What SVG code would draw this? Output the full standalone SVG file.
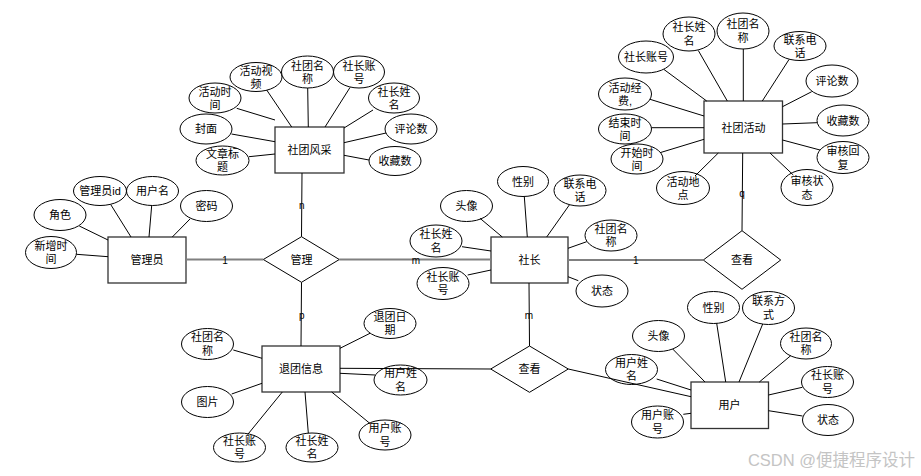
<svg xmlns="http://www.w3.org/2000/svg" width="921" height="476" viewBox="0 0 921 476">
<style>
text{font-family:"Liberation Sans","Noto Sans CJK SC",sans-serif;font-size:11px;fill:#000;text-anchor:middle;dominant-baseline:central}
.ent{fill:#fff;stroke:#333;stroke-width:1.3}
.att{fill:#fff;stroke:#000;stroke-width:1}
.rel{fill:#fff;stroke:#000;stroke-width:1}
.ln{stroke:#000;stroke-width:1;fill:none}
.gl{stroke:#808080;stroke-width:2;fill:none}
.lbl{font-size:10px}
.wm{font-size:16.5px;fill:#c4c4c4;text-anchor:end}
</style>
<rect width="921" height="476" fill="#fff"/>

<g id="nodes">
<!-- 社团风采 -->
<g id="e-fengcai"><rect class="ent" x="275" y="127" width="69" height="46"/><text x="309.5" y="150">社团风采</text></g>
<g id="a-fc-1"><ellipse class="att" cx="256" cy="77" rx="26" ry="14.5"/><text x="256" y="70.5">活动视</text><text x="256" y="83.5">频</text></g>
<g id="a-fc-2"><ellipse class="att" cx="307.5" cy="72" rx="26" ry="16"/><text x="307.5" y="65.5">社团名</text><text x="307.5" y="78.5">称</text></g>
<g id="a-fc-3"><ellipse class="att" cx="359" cy="72" rx="25.5" ry="16"/><text x="359" y="65.5">社长账</text><text x="359" y="78.5">号</text></g>
<g id="a-fc-4"><ellipse class="att" cx="215" cy="98" rx="26" ry="15"/><text x="215" y="91.5">活动时</text><text x="215" y="104.5">间</text></g>
<g id="a-fc-5"><ellipse class="att" cx="394" cy="98" rx="25.5" ry="15"/><text x="394" y="91.5">社长姓</text><text x="394" y="104.5">名</text></g>
<g id="a-fc-6"><ellipse class="att" cx="206" cy="129" rx="26" ry="15"/><text x="206" y="129">封面</text></g>
<g id="a-fc-7"><ellipse class="att" cx="411" cy="129" rx="26" ry="15"/><text x="411" y="129">评论数</text></g>
<g id="a-fc-8"><ellipse class="att" cx="222.5" cy="160.5" rx="26.5" ry="14.5"/><text x="222.5" y="154">文章标</text><text x="222.5" y="167">题</text></g>
<g id="a-fc-9"><ellipse class="att" cx="395" cy="161" rx="26" ry="14.5"/><text x="395" y="161">收藏数</text></g>

<!-- 社团活动 -->
<g id="e-huodong"><rect class="ent" x="704" y="101" width="78.5" height="52"/><text x="743.5" y="128">社团活动</text></g>
<g id="a-hd-1"><ellipse class="att" cx="689" cy="34" rx="26" ry="17"/><text x="689" y="26.5">社长姓</text><text x="689" y="41">名</text></g>
<g id="a-hd-2"><ellipse class="att" cx="743" cy="31" rx="26" ry="18"/><text x="743" y="23.5">社团名</text><text x="743" y="38">称</text></g>
<g id="a-hd-3"><ellipse class="att" cx="800" cy="46" rx="26" ry="14.5"/><text x="800" y="39.5">联系电</text><text x="800" y="52.5">话</text></g>
<g id="a-hd-4"><ellipse class="att" cx="646" cy="57" rx="27.5" ry="16"/><text x="646" y="57">社长账号</text></g>
<g id="a-hd-5"><ellipse class="att" cx="832" cy="81" rx="26" ry="16"/><text x="832" y="81">评论数</text></g>
<g id="a-hd-6"><ellipse class="att" cx="625" cy="94" rx="26.5" ry="16"/><text x="625" y="87.5">活动经</text><text x="625" y="101">费,</text></g>
<g id="a-hd-7"><ellipse class="att" cx="843" cy="120.5" rx="26" ry="15.5"/><text x="843" y="120.5">收藏数</text></g>
<g id="a-hd-8"><ellipse class="att" cx="625" cy="129" rx="26.5" ry="15"/><text x="625" y="122.5">结束时</text><text x="625" y="136">间</text></g>
<g id="a-hd-9"><ellipse class="att" cx="637" cy="159" rx="26" ry="15"/><text x="637" y="152.5">开始时</text><text x="637" y="165.5">间</text></g>
<g id="a-hd-10"><ellipse class="att" cx="843" cy="157.5" rx="26" ry="16"/><text x="843" y="151">审核回</text><text x="843" y="164.5">复</text></g>
<g id="a-hd-11"><ellipse class="att" cx="683" cy="188" rx="26.5" ry="16.5"/><text x="683" y="181.5">活动地</text><text x="683" y="195">点</text></g>
<g id="a-hd-12"><ellipse class="att" cx="807" cy="187.5" rx="26" ry="18"/><text x="807" y="181">审核状</text><text x="807" y="194.5">态</text></g>

<!-- 管理员 -->
<g id="e-admin"><rect class="ent" x="108" y="237" width="78" height="46"/><text x="147" y="260">管理员</text></g>
<g id="a-ad-1"><ellipse class="att" cx="100" cy="191" rx="26.5" ry="14.5"/><text x="100" y="191">管理员id</text></g>
<g id="a-ad-2"><ellipse class="att" cx="152.5" cy="191" rx="26" ry="14.5"/><text x="152.5" y="191">用户名</text></g>
<g id="a-ad-3"><ellipse class="att" cx="60" cy="215" rx="26" ry="15.5"/><text x="60" y="215">角色</text></g>
<g id="a-ad-4"><ellipse class="att" cx="206.5" cy="206" rx="26" ry="15.5"/><text x="206.5" y="206">密码</text></g>
<g id="a-ad-5"><ellipse class="att" cx="51" cy="252.5" rx="25.5" ry="16"/><text x="51" y="245.5">新增时</text><text x="51" y="259">间</text></g>

<!-- 管理 -->
<g id="r-guanli"><polygon class="rel" points="263.3,259.5 301.5,236.7 339.3,259.5 301.5,282.3"/><text x="301.5" y="260">管理</text></g>

<!-- 社长 -->
<g id="e-shezhang"><rect class="ent" x="491" y="237" width="77" height="46"/><text x="529.5" y="260">社长</text></g>
<g id="a-sz-1"><ellipse class="att" cx="466.5" cy="206" rx="26" ry="15.5"/><text x="466.5" y="206">头像</text></g>
<g id="a-sz-2"><ellipse class="att" cx="523" cy="181.5" rx="25.5" ry="15"/><text x="523" y="181.5">性别</text></g>
<g id="a-sz-3"><ellipse class="att" cx="580" cy="190.5" rx="26" ry="15.5"/><text x="580" y="183.5">联系电</text><text x="580" y="197">话</text></g>
<g id="a-sz-4"><ellipse class="att" cx="436" cy="241" rx="26" ry="16"/><text x="436" y="234">社长姓</text><text x="436" y="247.5">名</text></g>
<g id="a-sz-5"><ellipse class="att" cx="611" cy="235.5" rx="26" ry="15.5"/><text x="611" y="228.5">社团名</text><text x="611" y="242">称</text></g>
<g id="a-sz-6"><ellipse class="att" cx="443" cy="283.5" rx="26" ry="16"/><text x="443" y="276.5">社长账</text><text x="443" y="290">号</text></g>
<g id="a-sz-7"><ellipse class="att" cx="602" cy="291" rx="26" ry="16"/><text x="602" y="291">状态</text></g>

<!-- 查看 (right) -->
<g id="r-chakan1"><polygon class="rel" points="703.3,260 742,230.7 780.7,260 742,289.3"/><text x="742" y="260">查看</text></g>

<!-- 退团信息 -->
<g id="e-tuituan"><rect class="ent" x="262" y="346" width="78" height="46"/><text x="301" y="369">退团信息</text></g>
<g id="a-tt-1"><ellipse class="att" cx="390" cy="323.5" rx="26" ry="15"/><text x="390" y="316.5">退团日</text><text x="390" y="330">期</text></g>
<g id="a-tt-2"><ellipse class="att" cx="207.5" cy="344" rx="26" ry="15.5"/><text x="207.5" y="337">社团名</text><text x="207.5" y="350.5">称</text></g>
<g id="a-tt-3"><ellipse class="att" cx="400.5" cy="380" rx="26.5" ry="15"/><text x="400.5" y="373">用户姓</text><text x="400.5" y="386.5">名</text></g>
<g id="a-tt-4"><ellipse class="att" cx="207.5" cy="402" rx="26" ry="15.5"/><text x="207.5" y="402">图片</text></g>
<g id="a-tt-5"><ellipse class="att" cx="239.5" cy="447.5" rx="26" ry="14.5"/><text x="239.5" y="440.5">社长账</text><text x="239.5" y="454">号</text></g>
<g id="a-tt-6"><ellipse class="att" cx="312" cy="447.5" rx="26" ry="14.5"/><text x="312" y="440.5">社长姓</text><text x="312" y="454">名</text></g>
<g id="a-tt-7"><ellipse class="att" cx="385" cy="435" rx="26" ry="15"/><text x="385" y="428">用户账</text><text x="385" y="441.5">号</text></g>

<!-- 查看 (lower) -->
<g id="r-chakan2"><polygon class="rel" points="490.7,369 529.5,346 568.3,369 529.5,392.3"/><text x="529.5" y="369">查看</text></g>

<!-- 用户 -->
<g id="e-user"><rect class="ent" x="691" y="382" width="77.5" height="46.5"/><text x="729.5" y="405">用户</text></g>
<g id="a-us-1"><ellipse class="att" cx="713.5" cy="307.5" rx="26" ry="16"/><text x="713.5" y="307.5">性别</text></g>
<g id="a-us-2"><ellipse class="att" cx="768.5" cy="308" rx="26" ry="16.5"/><text x="768.5" y="301">联系方</text><text x="768.5" y="314.5">式</text></g>
<g id="a-us-3"><ellipse class="att" cx="658.5" cy="336" rx="26" ry="15.5"/><text x="658.5" y="336">头像</text></g>
<g id="a-us-4"><ellipse class="att" cx="806" cy="343.5" rx="25.5" ry="15.5"/><text x="806" y="336.5">社团名</text><text x="806" y="350">称</text></g>
<g id="a-us-5"><ellipse class="att" cx="631.5" cy="369.5" rx="26" ry="15"/><text x="631.5" y="362.5">用户姓</text><text x="631.5" y="376">名</text></g>
<g id="a-us-6"><ellipse class="att" cx="827.5" cy="382" rx="26" ry="15.5"/><text x="827.5" y="375">社长账</text><text x="827.5" y="388.5">号</text></g>
<g id="a-us-7"><ellipse class="att" cx="657.5" cy="422" rx="26" ry="16"/><text x="657.5" y="415">用户账</text><text x="657.5" y="428.5">号</text></g>
<g id="a-us-8"><ellipse class="att" cx="828" cy="420" rx="25.5" ry="15.5"/><text x="828" y="420">状态</text></g>
</g>

<g id="connectors">
<!-- 社团风采 attributes -->
<line class="ln" x1="266.7" y1="90" x2="291.7" y2="127"/>
<line class="ln" x1="307.7" y1="88" x2="308.3" y2="127"/>
<line class="ln" x1="350" y1="87.5" x2="325" y2="127"/>
<line class="ln" x1="236.7" y1="108.3" x2="275" y2="120"/>
<line class="ln" x1="373" y1="110" x2="344" y2="128"/>
<line class="ln" x1="231.5" y1="134" x2="275" y2="141.7"/>
<line class="ln" x1="386" y1="133" x2="344" y2="142.7"/>
<line class="ln" x1="249" y1="156.7" x2="275" y2="154"/>
<line class="ln" x1="369" y1="160" x2="344" y2="155.3"/>
<!-- 社团活动 attributes -->
<line class="ln" x1="698.3" y1="50.5" x2="727.3" y2="101"/>
<line class="ln" x1="743.3" y1="49" x2="743.3" y2="101"/>
<line class="ln" x1="789" y1="59.5" x2="762.3" y2="101"/>
<line class="ln" x1="664" y1="69.5" x2="706.7" y2="101"/>
<line class="ln" x1="811.7" y1="91.7" x2="782.5" y2="106.7"/>
<line class="ln" x1="650" y1="99.3" x2="704" y2="116"/>
<line class="ln" x1="817" y1="122.7" x2="782.5" y2="124"/>
<line class="ln" x1="651.5" y1="127.7" x2="704" y2="127.7"/>
<line class="ln" x1="660" y1="152.7" x2="704" y2="139.3"/>
<line class="ln" x1="820" y1="150" x2="782.5" y2="140"/>
<line class="ln" x1="695" y1="176" x2="718.3" y2="153"/>
<line class="ln" x1="793.3" y1="175" x2="770" y2="153"/>
<!-- 管理员 attributes -->
<line class="ln" x1="110.7" y1="204.5" x2="131" y2="237"/>
<line class="ln" x1="151.7" y1="205.5" x2="149" y2="237"/>
<line class="ln" x1="79.3" y1="226" x2="108" y2="240"/>
<line class="ln" x1="190" y1="219" x2="172.3" y2="237"/>
<line class="ln" x1="76.5" y1="254.3" x2="108" y2="256.7"/>
<!-- 社长 attributes -->
<line class="ln" x1="480" y1="218.3" x2="502.3" y2="237"/>
<line class="ln" x1="524.3" y1="196.5" x2="527.3" y2="237"/>
<line class="ln" x1="569.3" y1="205" x2="546.7" y2="237"/>
<line class="ln" x1="462" y1="246.7" x2="491" y2="251"/>
<line class="ln" x1="586.7" y1="241.7" x2="568" y2="248.3"/>
<line class="ln" x1="467.7" y1="275" x2="491" y2="270"/>
<line class="ln" x1="578.3" y1="280.7" x2="568" y2="276.7"/>
<!-- 退团信息 attributes -->
<line class="ln" x1="370" y1="333.3" x2="340" y2="348.3"/>
<line class="ln" x1="233.3" y1="350" x2="262" y2="358.3"/>
<line class="ln" x1="231.7" y1="394" x2="262" y2="383.3"/>
<line class="ln" x1="247.7" y1="434.5" x2="282.3" y2="392"/>
<line class="ln" x1="308.3" y1="433" x2="305" y2="392"/>
<line class="ln" x1="370" y1="423.5" x2="331.7" y2="392"/>
<line class="ln" x1="340" y1="373.3" x2="375" y2="375"/>
<!-- 用户 attributes -->
<line class="ln" x1="716.7" y1="323.3" x2="725.7" y2="382"/>
<line class="ln" x1="762.7" y1="324" x2="739" y2="382"/>
<line class="ln" x1="672.7" y1="349" x2="705" y2="382"/>
<line class="ln" x1="790.7" y1="355.7" x2="759.3" y2="382"/>
<line class="ln" x1="656.7" y1="379" x2="691" y2="390"/>
<line class="ln" x1="802.3" y1="387.3" x2="768.5" y2="395"/>
<line class="ln" x1="683.3" y1="414.3" x2="691" y2="413.3"/>
<line class="ln" x1="802.5" y1="416" x2="768.5" y2="410.7"/>
<!-- relationships -->
<line class="gl" x1="186" y1="259.5" x2="263.3" y2="259.5"/>
<line class="gl" x1="339.3" y1="259.5" x2="491" y2="259.5"/>
<line class="gl" x1="568" y1="260" x2="703.3" y2="260"/>
<line class="ln" x1="302" y1="173" x2="301.5" y2="236.7"/>
<line class="ln" x1="301.5" y1="282.3" x2="301" y2="346"/>
<line class="ln" x1="529" y1="283" x2="529.5" y2="346"/>
<line class="ln" x1="742.7" y1="153" x2="742" y2="230.7"/>
<line class="ln" x1="340" y1="368.3" x2="490.7" y2="369"/>
<line class="ln" x1="568.3" y1="369" x2="691" y2="396.7"/>
</g>

<g id="labels">
<text class="lbl" x="301.7" y="205">n</text>
<text class="lbl" x="225" y="260">1</text>
<text class="lbl" x="416" y="260">m</text>
<text class="lbl" x="635.7" y="260">1</text>
<text class="lbl" x="742" y="193">q</text>
<text class="lbl" x="301.7" y="315.7">p</text>
<text class="lbl" x="529" y="315.7">m</text>
</g>

<text class="wm" x="915" y="459.5">CSDN @便捷程序设计</text>
</svg>
